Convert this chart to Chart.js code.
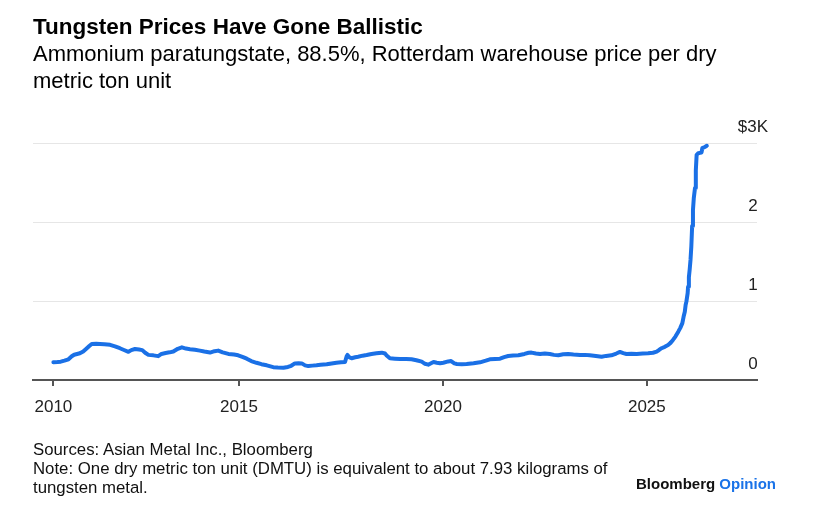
<!DOCTYPE html>
<html><head><meta charset="utf-8">
<script src="https://cdn.jsdelivr.net/npm/chart.js@4.4.1/dist/chart.umd.min.js"></script>
<style>
html,body{margin:0;padding:0;background:#fff;width:820px;height:510px;overflow:hidden;font-family:"Liberation Sans",Arial,sans-serif;color:#000;}
.t{position:absolute;left:33px;white-space:nowrap;}
#title{top:14px;font-size:22.5px;font-weight:bold;line-height:26px;}
#sub{top:41px;font-size:22px;line-height:26.7px;}
#foot{top:440px;font-size:16.8px;line-height:19px;color:#111;}
#brand{position:absolute;left:636px;top:476px;font-size:15px;line-height:15px;font-weight:bold;white-space:nowrap;color:#111;}
#brand span{color:#1a73e8;}
#wrap{position:absolute;left:0;top:0;width:820px;height:510px;}
</style></head>
<body>
<div id="wrap"><canvas id="c"></canvas></div>
<div class="t" id="title">Tungsten Prices Have Gone Ballistic</div>
<div class="t" id="sub">Ammonium paratungstate, 88.5%, Rotterdam warehouse price per dry<br>metric ton unit</div>
<div class="t" id="foot">Sources: Asian Metal Inc., Bloomberg<br>Note: One dry metric ton unit (DMTU) is equivalent to about 7.93 kilograms of<br>tungsten metal.</div>
<div id="brand">Bloomberg <span>Opinion</span></div>
<script>
const years = [2010.45,2010.55,2010.63,2010.72,2010.82,2010.9,2010.96,2011.1,2011.18,2011.25,2011.33,2011.39,2011.5,2011.59,2011.7,2011.84,2011.96,2012.08,2012.18,2012.29,2012.36,2012.45,2012.55,2012.63,2012.7,2012.78,2012.9,2013.02,2013.1,2013.2,2013.3,2013.39,2013.5,2013.6,2013.7,2013.8,2013.92,2014.04,2014.15,2014.29,2014.4,2014.49,2014.6,2014.74,2014.88,2014.98,2015.1,2015.19,2015.3,2015.43,2015.55,2015.68,2015.84,2015.95,2016.09,2016.2,2016.28,2016.37,2016.46,2016.54,2016.62,2016.7,2016.8,2016.9,2017.0,2017.15,2017.27,2017.39,2017.5,2017.6,2017.64,2017.66,2017.7,2017.76,2017.85,2017.92,2018.03,2018.13,2018.25,2018.37,2018.5,2018.58,2018.62,2018.7,2018.82,2018.95,2019.1,2019.23,2019.35,2019.48,2019.56,2019.64,2019.72,2019.77,2019.85,2019.93,2020.01,2020.13,2020.2,2020.28,2020.34,2020.46,2020.58,2020.75,2020.91,2021.05,2021.15,2021.28,2021.4,2021.5,2021.6,2021.72,2021.85,2022.0,2022.1,2022.17,2022.28,2022.38,2022.5,2022.62,2022.72,2022.83,2022.95,2023.07,2023.2,2023.36,2023.48,2023.6,2023.75,2023.89,2024.0,2024.13,2024.25,2024.34,2024.42,2024.5,2024.62,2024.75,2024.9,2025.03,2025.15,2025.24,2025.3,2025.36,2025.44,2025.52,2025.58,2025.64,2025.7,2025.77,2025.82,2025.87,2025.9,2025.93,2025.95,2025.97,2026.0,2026.01,2026.03,2026.05,2026.07,2026.09,2026.11,2026.13,2026.15,2026.18,2026.2,2026.22,2026.26,2026.3,2026.34,2026.36,2026.42,2026.47];
const prices = [225,228,232,245,262,300,320,338,360,392,430,456,458,455,452,445,425,402,380,357,378,392,385,378,345,318,312,302,330,342,350,360,395,414,398,390,382,372,360,347,365,372,350,330,322,313,290,270,240,218,200,186,162,158,155,165,180,210,212,210,185,176,182,186,192,199,210,219,225,228,300,318,290,275,288,295,308,317,330,338,346,335,310,275,270,266,265,262,250,232,205,194,215,228,219,212,219,235,240,210,203,200,203,212,224,245,262,266,270,290,304,310,313,330,345,347,335,329,335,329,318,313,325,329,322,317,318,313,305,295,305,313,335,355,340,329,332,329,335,338,345,360,380,402,420,443,470,507,550,612,660,720,800,865,950,995,1100,1180,1300,1400,1520,1690,1950,2150,2300,2430,2650,2850,2870,2875,2880,2935,2950,2965];
const xTickValues = [2010.45,2015,2020,2025];
const xTickLabels = ['2010','2015','2020','2025'];
const yTickValues = [0,1000,2000,3000];
const yTickLabels = ['0','1','2','$3K'];

const FONT = '"Liberation Sans", Arial, sans-serif';
new Chart(document.getElementById('c'), {
  type: 'line',
  data: {
    datasets: [{
      data: years.map((x, i) => ({x: x, y: prices[i]})),
      borderColor: '#1a70e6',
      borderWidth: 4,
      pointRadius: 0,
      tension: 0,
      clip: false,
      borderJoinStyle: 'round',
      borderCapStyle: 'round'
    }]
  },
  options: {
    responsive: true,
    maintainAspectRatio: false,
    animation: false,
    layout: {padding: {left: 33, right: 63, top: 143, bottom: 90}},
    plugins: {legend: {display: false}, tooltip: {enabled: false}},
    scales: {
      x: {
        type: 'linear',
        min: 2009.95,
        max: 2027.7,
        afterBuildTicks: s => { s.ticks = xTickValues.map(v => ({value: v})); },
        afterFit: s => { s.height = 40; },
        grid: {drawOnChartArea: false, drawTicks: true, tickLength: 6, color: '#555', lineWidth: 2},
        border: {display: true, color: '#555', width: 2},
        ticks: {
          autoSkip: false, maxRotation: 0, padding: 11,
          color: '#222', font: {family: FONT, size: 17},
          callback: (v, i) => xTickLabels[i]
        }
      },
      y: {
        position: 'right',
        min: 0,
        max: 3000,
        afterBuildTicks: s => { s.ticks = yTickValues.map(v => ({value: v})); },
        afterFit: s => { s.width = 0; },
        grid: {drawTicks: false, color: c => (c.tick && c.tick.value === 0) ? 'rgba(0,0,0,0)' : '#e6e6e6', lineWidth: 1},
        border: {display: false},
        ticks: {
          mirror: true, crossAlign: 'center', padding: 11, labelOffset: -16,
          color: '#222', font: {family: FONT, size: 17},
          callback: (v, i) => yTickLabels[i]
        }
      }
    }
  }
});
</script>
</body></html>
